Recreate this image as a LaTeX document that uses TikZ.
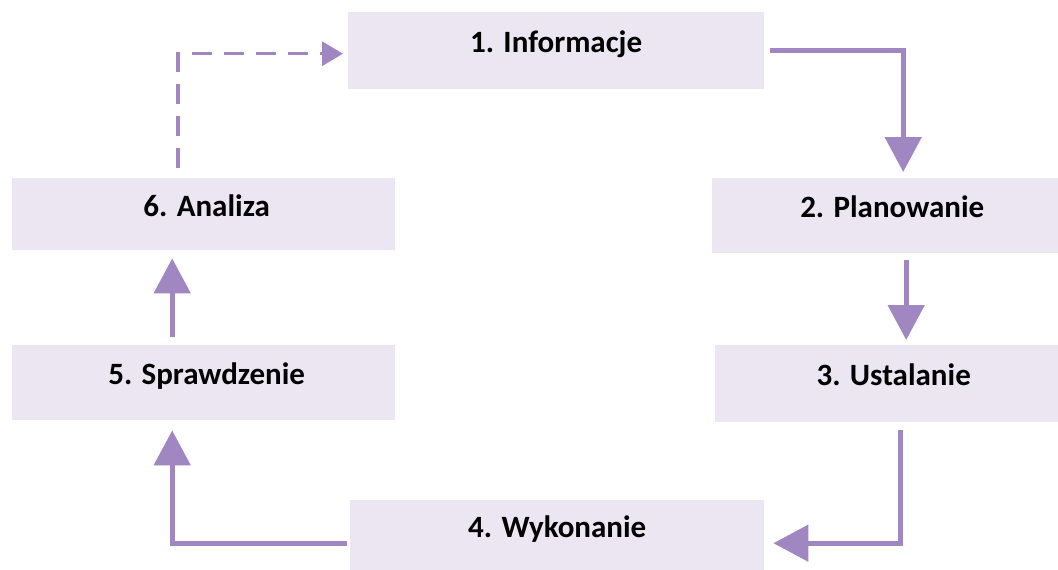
\documentclass[tikz,border=0pt]{standalone}
\usepackage{fontspec}
\setmainfont{Carlito}
\usetikzlibrary{arrows.meta}
\definecolor{boxfill}{RGB}{235,230,242}
\definecolor{arrowc}{RGB}{161,135,193}
\tikzset{
  stagebox/.style={fill=boxfill, draw=none, anchor=north west, inner sep=0pt,
    font=\fontsize{31}{34}\selectfont\bfseries, text height=0.7em, text depth=0.3em},
  flow/.style={draw=arrowc, line width=5pt, -{Triangle[width=36pt,length=35pt]}, arrowc},
  back/.style={draw=arrowc, line width=3.5pt, dash pattern=on 20pt off 12pt, -{Triangle[width=24pt,length=21pt]}, arrowc}
}
\begin{document}
\begin{tikzpicture}[x=1pt,y=-1pt]
\useasboundingbox (0,0) rectangle (1058,570);
\fill[white] (0,0) rectangle (1058,570);
\node[stagebox, minimum width=416pt, minimum height=77pt] (b1) at (348,12) {1. Informacje};
\node[stagebox, minimum width=346pt, minimum height=75pt] (b2) at (712,178) {\hspace*{14pt}2. Planowanie};
\node[stagebox, minimum width=343pt, minimum height=77pt] (b3) at (715,345) {\hspace*{14pt}3. Ustalanie};
\node[stagebox, minimum width=414pt, minimum height=70pt] (b4) at (350,500) {4. Wykonanie};
\node[stagebox, minimum width=383pt, minimum height=75pt] (b5) at (12,345) {\hspace*{6pt}5. Sprawdzenie};
\node[stagebox, minimum width=383pt, minimum height=72pt] (b6) at (12,178) {\hspace*{6pt}6. Analiza};
\draw[flow] ([xshift=6pt]b1.east) -| ([xshift=18pt,yshift=6pt]b2.north);
\draw[flow] ([xshift=21pt,yshift=-7pt]b2.south) -- ([xshift=19.5pt,yshift=5pt]b3.north);
\draw[flow] ([xshift=14pt,yshift=-8pt]b3.south) |- ([xshift=9pt,yshift=-8pt]b4.east);
\draw[flow] ([xshift=-3pt,yshift=-8pt]b4.west) -| ([xshift=-31.5pt,yshift=-10pt]b5.south);
\draw[flow] ([xshift=-31.5pt,yshift=8pt]b5.north) -- ([xshift=-31.5pt,yshift=-8pt]b6.south);
\draw[back] ([xshift=-25.5pt,yshift=10pt]b6.north) |- ([xshift=-5pt,yshift=-3pt]b1.west);
\end{tikzpicture}
\end{document}
